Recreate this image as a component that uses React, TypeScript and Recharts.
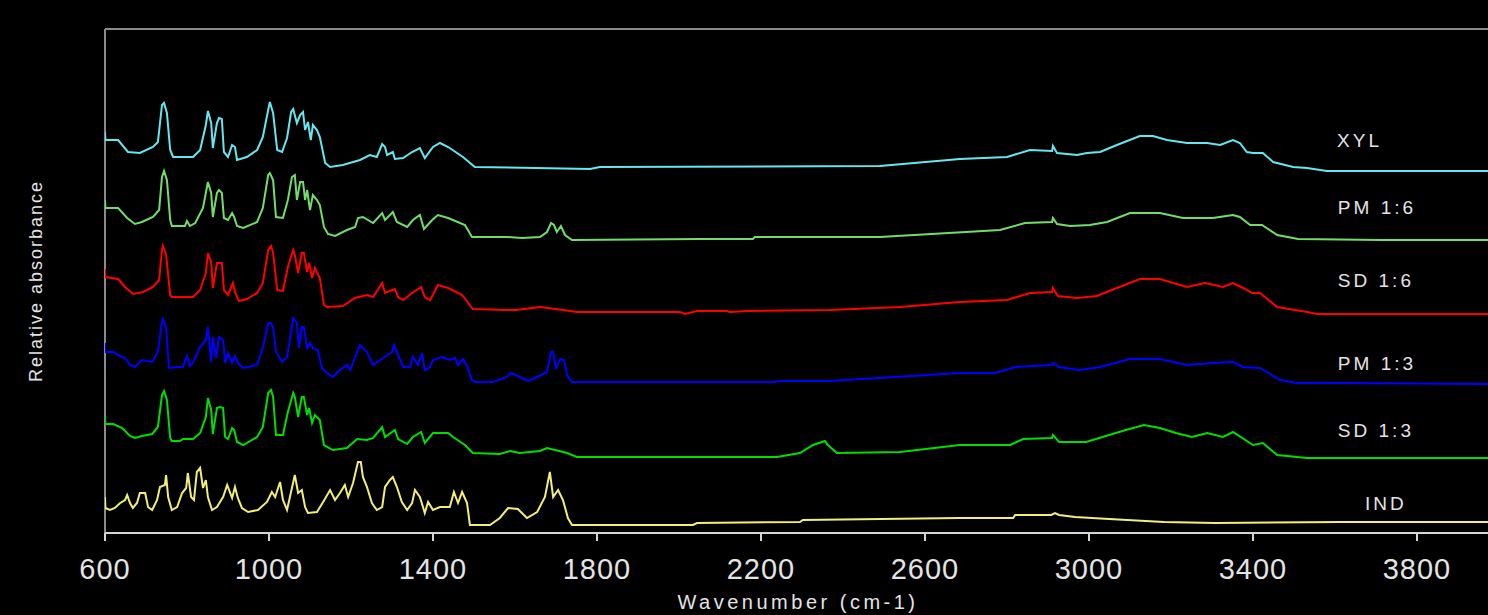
import { LineChart, Line, XAxis, YAxis, ReferenceLine, ReferenceDot, Label } from 'recharts';

// [wavenumber (cm-1), relative absorbance]
const XYL: [number, number][] = [
  [600, 4.01], [601, 3.93], [632, 3.93], [656, 3.81], [685, 3.8], [717, 3.86], [729, 3.91],
  [739, 4.28], [744, 4.3], [751, 4.2], [759, 3.83], [766, 3.76], [815, 3.76], [832, 3.83],
  [846, 4.08], [851, 4.22], [859, 4.1], [863, 3.85], [873, 4.1], [878, 4.15], [885, 4.14],
  [890, 3.81], [900, 3.76], [910, 3.88], [917, 3.86], [922, 3.73], [946, 3.76], [971, 3.83],
  [985, 3.96], [998, 4.23], [1002, 4.31], [1010, 4.2], [1020, 3.83], [1032, 3.81], [1044, 3.95],
  [1054, 4.21], [1059, 4.24], [1068, 4.1], [1076, 4.18], [1083, 4.21], [1088, 4.03], [1095, 4.11],
  [1102, 3.93], [1107, 4.08], [1117, 4.03], [1124, 3.96], [1137, 3.7], [1149, 3.66], [1180, 3.68],
  [1222, 3.73], [1246, 3.78], [1263, 3.76], [1276, 3.89], [1283, 3.86], [1288, 3.78], [1302, 3.81],
  [1307, 3.74], [1327, 3.75], [1349, 3.81], [1368, 3.85], [1380, 3.75], [1400, 3.86], [1417, 3.9],
  [1437, 3.86], [1473, 3.76], [1502, 3.66], [1783, 3.64], [1807, 3.66], [2490, 3.67], [2685, 3.74],
  [2800, 3.76], [2856, 3.83], [2910, 3.82], [2912, 3.87], [2922, 3.8], [2971, 3.78], [2995, 3.8],
  [3027, 3.81], [3068, 3.88], [3124, 3.97], [3156, 3.97], [3190, 3.93], [3239, 3.9], [3288, 3.9],
  [3320, 3.88], [3351, 3.93], [3368, 3.9], [3385, 3.81], [3400, 3.8], [3424, 3.8], [3449, 3.71],
  [3498, 3.66], [3532, 3.65], [3580, 3.62], [4000, 3.62],
];

const PM16: [number, number][] = [
  [600, 3.33], [601, 3.25], [632, 3.25], [654, 3.15], [673, 3.09], [690, 3.11], [717, 3.16],
  [732, 3.23], [739, 3.56], [744, 3.62], [751, 3.53], [759, 3.13], [763, 3.07], [795, 3.07],
  [800, 3.12], [807, 3.07], [820, 3.1], [839, 3.25], [851, 3.51], [859, 3.4], [863, 3.16],
  [873, 3.4], [878, 3.43], [885, 3.4], [890, 3.15], [900, 3.13], [910, 3.2], [915, 3.16],
  [922, 3.07], [937, 3.05], [971, 3.11], [985, 3.25], [998, 3.58], [1002, 3.6], [1010, 3.53],
  [1017, 3.16], [1034, 3.15], [1046, 3.33], [1056, 3.56], [1063, 3.58], [1068, 3.33], [1076, 3.51],
  [1083, 3.51], [1088, 3.33], [1093, 3.43], [1100, 3.23], [1107, 3.38], [1117, 3.33], [1124, 3.28],
  [1134, 3.06], [1144, 2.99], [1161, 2.97], [1190, 3.03], [1210, 3.06], [1217, 3.15], [1229, 3.16],
  [1254, 3.1], [1276, 3.2], [1283, 3.13], [1302, 3.21], [1312, 3.11], [1337, 3.06], [1351, 3.13],
  [1368, 3.18], [1378, 3.04], [1398, 3.13], [1412, 3.18], [1437, 3.15], [1478, 3.08], [1495, 2.96],
  [1580, 2.96], [1617, 2.95], [1661, 2.96], [1678, 3.01], [1688, 3.1], [1695, 3.08], [1702, 3.01],
  [1712, 3.07], [1722, 2.98], [1739, 2.93], [2051, 2.94], [2180, 2.94], [2185, 2.96], [2490, 2.96],
  [2783, 3.03], [2844, 3.1], [2910, 3.11], [2912, 3.15], [2922, 3.09], [2954, 3.07], [3002, 3.08],
  [3044, 3.11], [3100, 3.2], [3173, 3.2], [3229, 3.15], [3302, 3.15], [3351, 3.18], [3368, 3.16],
  [3393, 3.08], [3422, 3.08], [3459, 2.98], [3510, 2.94], [3710, 2.93], [4000, 2.93],
];

const SD16: [number, number][] = [
  [600, 2.64], [601, 2.56], [632, 2.54], [649, 2.46], [668, 2.39], [693, 2.41], [717, 2.46],
  [732, 2.53], [739, 2.83], [741, 2.87], [749, 2.78], [759, 2.38], [763, 2.36], [815, 2.36],
  [832, 2.43], [846, 2.6], [851, 2.8], [859, 2.71], [863, 2.45], [873, 2.7], [885, 2.7],
  [890, 2.43], [900, 2.38], [912, 2.5], [917, 2.41], [927, 2.32], [946, 2.34], [971, 2.4],
  [985, 2.5], [998, 2.83], [1005, 2.87], [1010, 2.8], [1020, 2.43], [1034, 2.42], [1046, 2.66],
  [1059, 2.83], [1063, 2.78], [1071, 2.6], [1080, 2.8], [1085, 2.8], [1093, 2.61], [1098, 2.7],
  [1105, 2.55], [1112, 2.65], [1124, 2.55], [1134, 2.28], [1141, 2.26], [1180, 2.27], [1210, 2.35],
  [1239, 2.38], [1254, 2.36], [1276, 2.5], [1283, 2.4], [1307, 2.44], [1315, 2.36], [1327, 2.33],
  [1349, 2.4], [1371, 2.46], [1380, 2.36], [1393, 2.33], [1412, 2.48], [1437, 2.45], [1471, 2.38],
  [1497, 2.24], [1578, 2.23], [1602, 2.23], [1661, 2.26], [1717, 2.23], [1751, 2.21], [2002, 2.21],
  [2015, 2.19], [2044, 2.22], [2117, 2.22], [2124, 2.21], [2166, 2.22], [2366, 2.23], [2539, 2.26],
  [2685, 2.31], [2800, 2.33], [2856, 2.4], [2910, 2.41], [2912, 2.45], [2924, 2.37], [2971, 2.35],
  [3019, 2.37], [3068, 2.45], [3124, 2.54], [3173, 2.54], [3239, 2.46], [3283, 2.5], [3327, 2.46],
  [3351, 2.5], [3376, 2.45], [3398, 2.4], [3417, 2.4], [3459, 2.26], [3532, 2.21], [3556, 2.19],
  [4000, 2.19],
];

const PM13: [number, number][] = [
  [600, 1.9], [601, 1.81], [620, 1.81], [632, 1.78], [649, 1.75], [661, 1.68], [673, 1.66],
  [690, 1.73], [715, 1.71], [729, 1.81], [739, 2.11], [741, 2.14], [749, 2.06], [756, 1.65],
  [776, 1.66], [790, 1.66], [800, 1.77], [807, 1.67], [815, 1.71], [832, 1.86], [846, 1.93],
  [851, 2.06], [859, 1.71], [863, 1.96], [871, 1.75], [878, 1.96], [888, 1.93], [893, 1.7],
  [900, 1.8], [910, 1.7], [917, 1.77], [924, 1.7], [937, 1.65], [971, 1.68], [985, 1.85],
  [998, 2.1], [1005, 2.1], [1010, 2.06], [1017, 1.81], [1032, 1.71], [1044, 1.76], [1059, 2.15],
  [1068, 2.1], [1073, 1.85], [1080, 2.06], [1085, 2.06], [1093, 1.85], [1100, 1.9], [1107, 1.85],
  [1119, 1.83], [1129, 1.65], [1141, 1.6], [1156, 1.56], [1173, 1.63], [1190, 1.68], [1198, 1.63],
  [1215, 1.81], [1222, 1.88], [1239, 1.81], [1254, 1.68], [1278, 1.75], [1300, 1.81], [1305, 1.88],
  [1312, 1.81], [1327, 1.66], [1344, 1.66], [1351, 1.76], [1363, 1.68], [1373, 1.8], [1380, 1.63],
  [1393, 1.66], [1400, 1.73], [1422, 1.76], [1441, 1.73], [1454, 1.75], [1461, 1.68], [1473, 1.74],
  [1483, 1.67], [1495, 1.53], [1502, 1.51], [1546, 1.51], [1580, 1.56], [1590, 1.6], [1612, 1.56],
  [1632, 1.52], [1654, 1.56], [1678, 1.61], [1688, 1.81], [1693, 1.81], [1700, 1.65], [1710, 1.74],
  [1720, 1.73], [1727, 1.58], [1739, 1.51], [2234, 1.51], [2244, 1.52], [2366, 1.52], [2685, 1.6],
  [2771, 1.6], [2820, 1.66], [2910, 1.68], [2912, 1.7], [2927, 1.66], [2976, 1.63], [3027, 1.66],
  [3100, 1.74], [3173, 1.74], [3239, 1.68], [3302, 1.7], [3351, 1.71], [3376, 1.66], [3417, 1.65],
  [3466, 1.53], [3507, 1.5], [3620, 1.5], [4000, 1.49],
];

const SD13: [number, number][] = [
  [600, 1.18], [601, 1.09], [620, 1.09], [642, 1.05], [661, 0.97], [673, 0.95], [690, 0.97],
  [715, 0.99], [729, 1.06], [739, 1.38], [744, 1.42], [751, 1.33], [759, 0.95], [763, 0.92],
  [783, 0.92], [790, 0.94], [815, 0.94], [832, 1.0], [846, 1.16], [851, 1.35], [859, 1.23],
  [863, 0.99], [873, 1.25], [880, 1.26], [888, 1.25], [893, 0.96], [900, 0.94], [910, 1.05],
  [915, 1.03], [922, 0.91], [937, 0.88], [971, 0.96], [985, 1.06], [998, 1.4], [1005, 1.43],
  [1010, 1.36], [1017, 0.98], [1034, 0.98], [1046, 1.21], [1059, 1.4], [1063, 1.36], [1071, 1.16],
  [1080, 1.36], [1085, 1.36], [1093, 1.18], [1098, 1.25], [1105, 1.1], [1112, 1.18], [1124, 1.13],
  [1134, 0.88], [1156, 0.83], [1190, 0.85], [1215, 0.94], [1239, 0.93], [1254, 0.95], [1276, 1.06],
  [1283, 0.96], [1307, 1.03], [1315, 0.94], [1337, 0.89], [1351, 0.96], [1371, 1.01], [1380, 0.9],
  [1400, 1.0], [1437, 1.0], [1449, 0.96], [1478, 0.88], [1497, 0.8], [1563, 0.79], [1588, 0.82],
  [1612, 0.8], [1661, 0.82], [1678, 0.85], [1698, 0.83], [1727, 0.8], [1751, 0.76], [2239, 0.76],
  [2295, 0.8], [2327, 0.88], [2356, 0.92], [2363, 0.88], [2385, 0.8], [2539, 0.81], [2685, 0.88],
  [2808, 0.88], [2839, 0.94], [2910, 0.95], [2912, 0.98], [2927, 0.91], [2993, 0.91], [3041, 0.97],
  [3090, 1.03], [3134, 1.08], [3173, 1.05], [3212, 1.0], [3251, 0.96], [3288, 1.0], [3327, 0.96],
  [3351, 1.01], [3400, 0.88], [3424, 0.9], [3459, 0.78], [3532, 0.75], [4000, 0.75],
];

const IND: [number, number][] = [
  [600, 0.36], [601, 0.25], [612, 0.23], [624, 0.25], [637, 0.3], [649, 0.33], [654, 0.38],
  [661, 0.3], [668, 0.25], [678, 0.3], [685, 0.4], [698, 0.4], [705, 0.26], [715, 0.23],
  [727, 0.33], [734, 0.46], [746, 0.48], [749, 0.58], [754, 0.36], [763, 0.23], [776, 0.26],
  [788, 0.4], [798, 0.45], [802, 0.6], [810, 0.36], [817, 0.33], [824, 0.61], [832, 0.65],
  [839, 0.45], [846, 0.53], [851, 0.36], [861, 0.23], [873, 0.26], [888, 0.36], [898, 0.48],
  [910, 0.35], [917, 0.46], [924, 0.35], [934, 0.25], [949, 0.21], [973, 0.23], [995, 0.31],
  [1007, 0.41], [1015, 0.36], [1027, 0.51], [1034, 0.33], [1044, 0.23], [1051, 0.36], [1063, 0.58],
  [1071, 0.4], [1080, 0.43], [1088, 0.26], [1095, 0.2], [1117, 0.21], [1132, 0.31], [1149, 0.43],
  [1161, 0.33], [1173, 0.4], [1185, 0.48], [1193, 0.36], [1205, 0.5], [1217, 0.71], [1224, 0.71],
  [1229, 0.56], [1239, 0.46], [1251, 0.3], [1263, 0.23], [1276, 0.26], [1283, 0.46], [1295, 0.53],
  [1302, 0.56], [1312, 0.46], [1324, 0.31], [1337, 0.23], [1349, 0.3], [1356, 0.43], [1368, 0.36],
  [1380, 0.2], [1388, 0.31], [1400, 0.23], [1417, 0.26], [1441, 0.26], [1451, 0.41], [1461, 0.3],
  [1471, 0.41], [1483, 0.3], [1490, 0.08], [1539, 0.08], [1563, 0.15], [1583, 0.25], [1607, 0.24],
  [1629, 0.15], [1654, 0.21], [1673, 0.36], [1685, 0.61], [1693, 0.36], [1705, 0.43], [1717, 0.33],
  [1729, 0.15], [1739, 0.08], [2034, 0.08], [2044, 0.1], [2295, 0.11], [2302, 0.13], [2685, 0.15],
  [2815, 0.15], [2820, 0.18], [2908, 0.18], [2917, 0.2], [2927, 0.18], [2966, 0.16], [3049, 0.14],
  [3183, 0.11], [3307, 0.1], [3617, 0.11], [4000, 0.11],
];

const X_TICKS = [600, 1000, 1400, 1800, 2200, 2600, 3000, 3400, 3800];

const SERIES = [
  { name: 'XYL', data: XYL, color: '#66E6EE' },
  { name: 'PM 1:6', data: PM16, color: '#74DC6C' },
  { name: 'SD 1:6', data: SD16, color: '#FF0000' },
  { name: 'PM 1:3', data: PM13, color: '#0000FF' },
  { name: 'SD 1:3', data: SD13, color: '#00DD00' },
  { name: 'IND', data: IND, color: '#F2EE7A' },
];

// where each sample name sits, in data units
const NAME_TAGS: { text: string; w: number; a: number }[] = [
  { text: 'XYL', w: 3605, a: 3.93 },
  { text: 'PM 1:6', w: 3607, a: 3.26 },
  { text: 'SD  1:6', w: 3607, a: 2.53 },
  { text: 'PM 1:3', w: 3607, a: 1.7 },
  { text: 'SD  1:3', w: 3607, a: 1.03 },
  { text: 'IND', w: 3673, a: 0.3 },
];

const TEXT = '#E4E4E4';
const FONT = '"Liberation Sans", Arial, sans-serif';

export default function App() {
  return (
    <div style={{ position: 'fixed', left: 0, top: 0, width: 1488, height: 615, background: '#000', overflow: 'hidden' }}>
      <LineChart width={1520} height={615} margin={{ top: 29, right: 21, bottom: 22, left: 105 }}>
        <XAxis
          dataKey="w"
          type="number"
          domain={[600, 4000]}
          ticks={X_TICKS}
          allowDataOverflow
          height={60}
          axisLine={{ stroke: '#D6D6D6', strokeWidth: 2 }}
          tickLine={{ stroke: '#D6D6D6', strokeWidth: 2 }}
          tickSize={8}
          tickMargin={17}
          tick={{ fill: TEXT, fontSize: 29, fontFamily: FONT, letterSpacing: 1 }}
        >
          <Label
            content={({ viewBox }: any) => (
              <text
                x={viewBox.x + viewBox.width / 2 - 4}
                y={viewBox.y + viewBox.height + 16}
                textAnchor="middle"
                fill={TEXT}
                fontSize={20}
                fontFamily={FONT}
                letterSpacing={3.5}
              >
                Wavenumber (cm-1)
              </text>
            )}
          />
        </XAxis>
        <YAxis type="number" domain={[0, 5.04]} hide />
        <ReferenceLine y={5.04} stroke="#8A8A8A" strokeWidth={2} ifOverflow="visible" />
        <ReferenceLine
          x={600}
          stroke="#8A8A8A"
          strokeWidth={2}
          ifOverflow="visible"
          label={{
            content: ({ viewBox }: any) => {
              const x = viewBox.x - 69;
              const y = viewBox.y + viewBox.height / 2;
              return (
                <text
                  x={x}
                  y={y}
                  transform={`rotate(-90 ${x} ${y})`}
                  textAnchor="middle"
                  dominantBaseline="central"
                  fill={TEXT}
                  fontSize={18}
                  fontFamily={FONT}
                  letterSpacing={2}
                >
                  Relative absorbance
                </text>
              );
            },
          }}
        />
        {SERIES.map((s) => (
          <Line
            key={s.name}
            data={s.data.map(([w, a]) => ({ w, a }))}
            dataKey="a"
            name={s.name}
            type="linear"
            stroke={s.color}
            strokeWidth={2}
            dot={false}
            isAnimationActive={false}
          />
        ))}
        {NAME_TAGS.map((t) => (
          <ReferenceDot
            key={t.text}
            x={t.w}
            y={t.a}
            ifOverflow="visible"
            shape={(p: any) => (
              <text
                x={p.cx}
                y={p.cy}
                fill={TEXT}
                fontSize={19}
                fontFamily={FONT}
                letterSpacing={3}
                dominantBaseline="central"
              >
                {t.text}
              </text>
            )}
          />
        ))}
      </LineChart>
    </div>
  );
}
